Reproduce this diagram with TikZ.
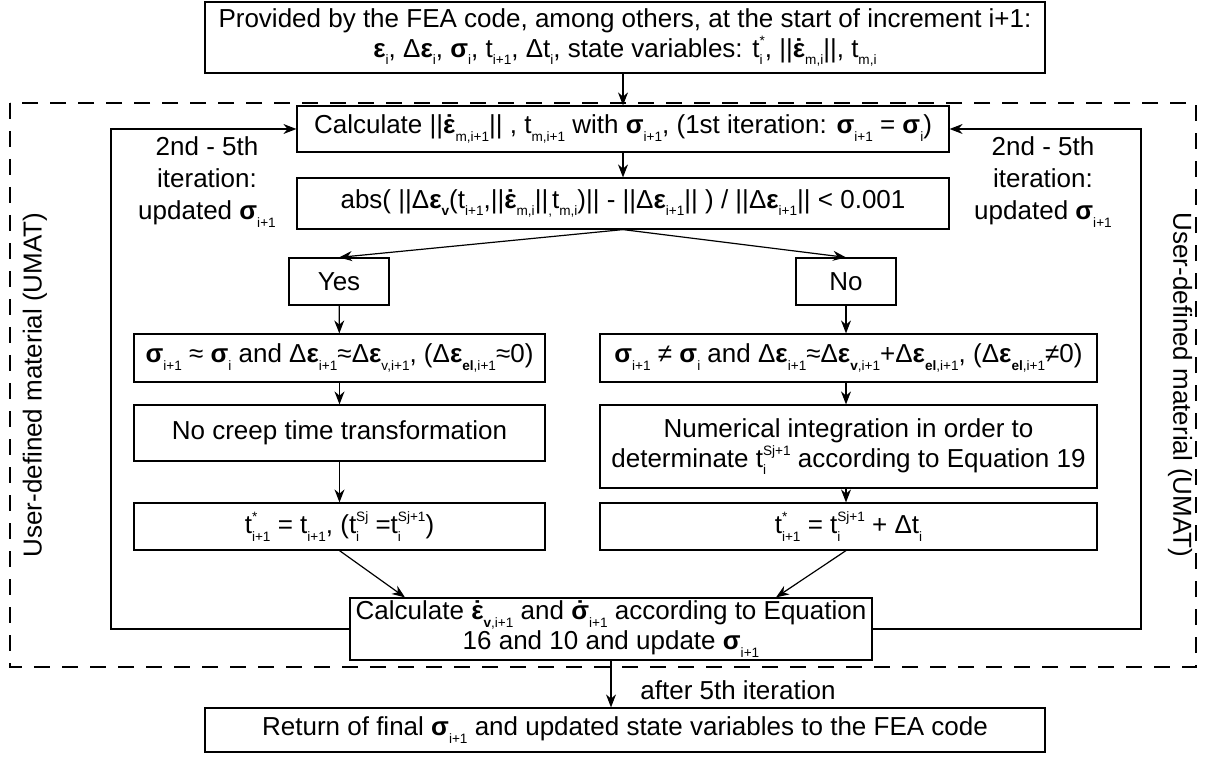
\documentclass[tikz,border=0pt]{standalone}
\usepackage{fontspec}
\setmainfont{Liberation Sans}
\usetikzlibrary{arrows.meta,calc}
\newcommand\sbf{\fontsize{6.8}{6.8}\selectfont}
\newcommand\Sub[1]{\raisebox{-0.55ex}{\sbf #1}}
\newcommand\Sup[1]{\raisebox{0.85ex}{\sbf #1}}
\newcommand\SupSub[2]{\leavevmode\setbox0=\hbox{\Sup{#1}}\setbox2=\hbox{\Sub{#2}}\ifdim\wd0>\wd2 \rlap{\box2}\box0 \else\rlap{\box0}\box2 \fi}
\newcommand\Bs{\textbf{σ}}
\newcommand\Be{\textbf{ε}}
\newcommand\Dt[1]{\leavevmode\setbox4=\hbox{#1}\rlap{\hbox to\wd4{\hss\textbf{˙}\hss}}\box4 }
\tikzset{
  box/.style={draw, line width=0.6pt, align=center, inner sep=0pt, font=\fontsize{13}{15}\selectfont},
  lbl/.style={align=center, inner sep=0pt, font=\fontsize{13}{16}\selectfont},
  arr/.style={-{Stealth[length=6.5pt,width=5pt]}, line width=0.6pt},
  ln/.style={line width=0.6pt}
}
\begin{document}
\begin{tikzpicture}[x=0.5pt,y=-0.5pt]
\useasboundingbox (0,0) rectangle (1207,765);
% dashed frame
\draw[line width=0.6pt, dash pattern=on 8pt off 6pt] (10,103) rectangle (1196,667);
% boxes
\node[box, minimum width=420pt, minimum height=35.5pt] (top) at (625,37.5)
  {Provided by the FEA code, among others, at the start of increment i+1:\\
   \Be\Sub{i}, Δ\Be\Sub{i}, \Bs\Sub{i}, t\Sub{i+1}, Δt\Sub{i}, state variables: t\SupSub{*}{i}, ||\Dt{\Be}\Sub{m,i}||, t\Sub{m,i}};
\node[box, fill=white, minimum width=326pt, minimum height=23pt] (calc) at (623,129)
  {Calculate ||\Dt{\Be}\Sub{m,i+1}|| , t\Sub{m,i+1} with \Bs\Sub{i+1}, (1st iteration: \Bs\Sub{i+1} = \Bs\Sub{i})};
\node[box, minimum width=326pt, minimum height=25.5pt] (abs) at (623,203.5)
  {abs( ||Δ\Be\Sub{\textbf{v}}(t\Sub{i+1},||\Dt{\Be}\Sub{m,i}||\Sub{,}t\Sub{m,i})|| - ||Δ\Be\Sub{i+1}|| ) / ||Δ\Be\Sub{i+1}|| < 0.001};
\node[box, minimum width=50pt, minimum height=23.5pt] (yes) at (339,281.5) {Yes};
\node[box, minimum width=50pt, minimum height=23.5pt] (no) at (846,281.5) {No};
\node[box, minimum width=205.5pt, minimum height=24pt] (sigL) at (339.5,358)
  {\Bs\Sub{i+1} ≈ \Bs\Sub{i} and Δ\Be\Sub{i+1}≈Δ\Be\Sub{v,i+1}, (Δ\Be\Sub{\textbf{el},i+1}≈0)};
\node[box, minimum width=248.5pt, minimum height=24pt] (sigR) at (848.5,358)
  {\Bs\Sub{i+1} ≠ \Bs\Sub{i} and Δ\Be\Sub{i+1}≈Δ\Be\Sub{\textbf{v},i+1}+Δ\Be\Sub{\textbf{el},i+1}, (Δ\Be\Sub{\textbf{el},i+1}≠0)};
\node[box, minimum width=205.5pt, minimum height=28pt] (nocreep) at (339.5,433)
  {No creep time transformation};
\node[box, minimum width=248.5pt, minimum height=41.5pt] (numer) at (848.5,446.5)
  {Numerical integration in order to\\determinate t\SupSub{Sj+1}{i} according to Equation 19};
\node[box, minimum width=205.5pt, minimum height=23.5pt] (tL) at (339.5,526.5)
  {t\SupSub{*}{i+1} = t\Sub{i+1}, (t\SupSub{Sj}{i} =t\SupSub{Sj+1}{i})};
\node[box, minimum width=248.5pt, minimum height=23.5pt] (tR) at (848.5,526.5)
  {t\SupSub{*}{i+1} = t\SupSub{Sj+1}{i} + Δt\Sub{i}};
\node[box, minimum width=261pt, minimum height=31pt] (bcalc) at (611,629)
  {Calculate \Dt{\Be}\Sub{\textbf{v},i+1} and \Dt{\Bs}\Sub{i+1} according to Equation\\16 and 10 and update \Bs\Sub{i+1}};
\node[box, minimum width=420pt, minimum height=22pt] (final) at (625,730)
  {Return of final \Bs\Sub{i+1} and updated state variables to the FEA code};
% labels
\node[lbl] (itL) at (207,182) {2nd - 5th\\iteration:\\updated \Bs\Sub{i+1}};
\node[lbl] (itR) at (1043,182) {2nd - 5th\\iteration:\\updated \Bs\Sub{i+1}};
\node[lbl, rotate=90] (umatL) at (35,385) {User-defined material (UMAT)};
\node[lbl, rotate=-90] (umatR) at (1180,385) {User-defined material (UMAT)};
\node[lbl, anchor=west] (after) at (640,690) {after 5th iteration};
% connectors
\draw[arr] (top.south -| calc.north) -- (calc.north);
\draw[arr] (calc) -- (abs);
\draw[arr] (abs.south) -- (yes.north);
\draw[arr] (abs.south) -- (no.north);
\draw[arr] (yes) -- (sigL);
\draw[arr] (no) -- (sigR.north -| no.south);
\draw[arr] (sigL) -- (nocreep);
\draw[arr] (sigR.south -| no.south) -- (numer.north -| no.south);
\draw[arr] (nocreep) -- (tL);
\draw[arr] (numer.south -| no.south) -- (tR.north -| no.south);
\draw[arr] (tL.south) -- ([xshift=-103pt]bcalc.north);
\draw[arr] (tR.south -| no.south) -- ([xshift=82.5pt]bcalc.north);
\draw[arr] (bcalc.south) -- (final.north -| bcalc.south);
\draw[arr] (bcalc.west) -| (111,129) -- (calc.west);
\draw[arr] (bcalc.east) -| (1141,129) -- (calc.east);
\end{tikzpicture}
\end{document}
